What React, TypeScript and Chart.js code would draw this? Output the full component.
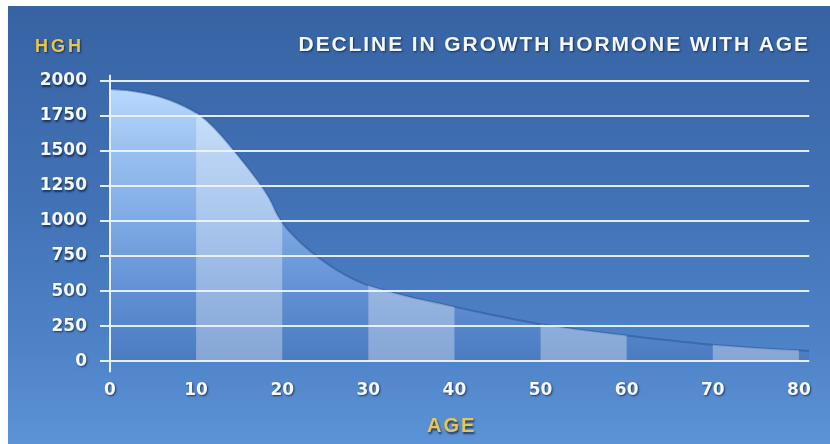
import React, { useEffect, useRef } from "react";
import { Chart, registerables } from "chart.js";

Chart.register(...registerables);

// Data
const ages = [0, 2, 4, 6, 8, 9.5, 10.5, 12, 14, 16, 17.5, 18.5, 19.5, 20.5, 21.5, 22.5, 24, 26.5, 29.5, 34, 39.5, 44, 49.5, 55, 60, 70, 80, 81.2];
const hgh = [1940, 1932, 1912, 1882, 1836, 1790, 1750, 1668, 1530, 1378, 1255, 1160, 1035, 950, 884, 825, 750, 645, 552, 471, 395, 336, 270, 222, 184, 118, 78, 75];
const xTicks = [0, 10, 20, 30, 40, 50, 60, 70, 80];
const yTicks = [0, 250, 500, 750, 1000, 1250, 1500, 1750, 2000];
const bandStarts = [10, 30, 50, 70];
const bandWidth = 10;
const titleText = "DECLINE IN GROWTH HORMONE WITH AGE";
const yLabelText = "HGH";
const xLabelText = "AGE";

const setShadow = (ctx: CanvasRenderingContext2D, on: boolean) => {
  if (on) {
    ctx.shadowColor = "rgba(12,30,70,0.75)";
    ctx.shadowOffsetX = 1;
    ctx.shadowOffsetY = 1.5;
    ctx.shadowBlur = 2;
  } else {
    ctx.shadowColor = "rgba(0,0,0,0)";
    ctx.shadowOffsetX = 0;
    ctx.shadowOffsetY = 0;
    ctx.shadowBlur = 0;
  }
};

const decorPlugin = {
  id: "decor",
  beforeDraw(chart: any) {
    const { ctx, width, height } = chart;
    const g = ctx.createLinearGradient(0, 0, 0, height);
    g.addColorStop(0, "#3763a3");
    g.addColorStop(0.45, "#4272b6");
    g.addColorStop(0.75, "#4d81c6");
    g.addColorStop(1, "#5c92d6");
    ctx.save();
    ctx.fillStyle = g;
    ctx.fillRect(0, 0, width, height);
    ctx.restore();
    setShadow(ctx, true);
  },
  beforeDatasetsDraw(chart: any) {
    setShadow(chart.ctx, false);
  },
  afterDatasetDraw(chart: any, args: any) {
    if (args.index !== 0) return;
    const { ctx, chartArea } = chart;
    const meta = chart.getDatasetMeta(0);
    const line = meta.dataset;
    const pts = meta.data;
    const xs = chart.scales.x;
    ctx.save();
    ctx.beginPath();
    if (line && typeof line.path === "function") {
      line.path(ctx);
    } else {
      pts.forEach((p: any, i: number) => (i ? ctx.lineTo(p.x, p.y) : ctx.moveTo(p.x, p.y)));
    }
    ctx.lineTo(pts[pts.length - 1].x, chartArea.bottom);
    ctx.lineTo(pts[0].x, chartArea.bottom);
    ctx.closePath();
    ctx.clip();
    ctx.fillStyle = "rgba(255,255,255,0.33)";
    bandStarts.forEach((s) => {
      const x0 = xs.getPixelForValue(s);
      const x1 = xs.getPixelForValue(s + bandWidth);
      ctx.fillRect(x0, chartArea.top - 20, x1 - x0, chartArea.bottom - chartArea.top + 20);
    });
    ctx.restore();
  },
  afterDraw(chart: any) {
    const { ctx, chartArea } = chart;
    const xs = chart.scales.x;
    ctx.save();
    setShadow(ctx, false);
    // vertical axis line
    const x0 = Math.round(xs.getPixelForValue(0));
    ctx.strokeStyle = "rgba(236,243,250,0.95)";
    ctx.lineWidth = 2;
    ctx.beginPath();
    ctx.moveTo(x0, chartArea.top - 6);
    ctx.lineTo(x0, chartArea.bottom + 11);
    ctx.stroke();

    setShadow(ctx, true);
    // title
    ctx.font = "bold 21px 'Liberation Sans', Arial, sans-serif";
    (ctx as any).letterSpacing = "1.9px";
    ctx.fillStyle = "#f4f8fc";
    ctx.textAlign = "right";
    ctx.textBaseline = "alphabetic";
    ctx.fillText(titleText, 802, 44.5);

    // HGH
    ctx.font = "bold 18px 'Liberation Sans', Arial, sans-serif";
    (ctx as any).letterSpacing = "3px";
    ctx.fillStyle = "#e9c64e";
    ctx.textAlign = "left";
    ctx.fillText(yLabelText, 27, 45.5);

    // AGE
    ctx.font = "bold 20px 'Liberation Sans', Arial, sans-serif";
    (ctx as any).letterSpacing = "2px";
    ctx.fillStyle = "#e9c64e";
    ctx.textAlign = "left";
    ctx.fillText(xLabelText, 419, 426);
    (ctx as any).letterSpacing = "0px";
    ctx.restore();
  },
};

export default function App() {
  const ref = useRef<HTMLCanvasElement | null>(null);

  useEffect(() => {
    if (!ref.current) return;
    const points = ages.map((a, i) => ({ x: a, y: hgh[i] }));
    const tickFont = { family: "'DejaVu Sans', Verdana, sans-serif", weight: "bold" as const, size: 17 };
    const chart = new Chart(ref.current, {
      type: "line",
      data: {
        datasets: [
          {
            data: points,
            parsing: false,
            fill: "origin",
            cubicInterpolationMode: "monotone",
            borderColor: "rgba(35,75,140,0.45)",
            borderWidth: 2,
            pointRadius: 0,
            backgroundColor: (c: any) => {
              const ca = c.chart.chartArea;
              if (!ca) return "#7eaae4";
              const g = c.chart.ctx.createLinearGradient(0, ca.top, 0, ca.bottom);
              g.addColorStop(0, "#bcdcff");
              g.addColorStop(0.25, "#9ac0f0");
              g.addColorStop(0.5, "#7eaae4");
              g.addColorStop(0.75, "#6290d4");
              g.addColorStop(1, "#4a7bc0");
              return g;
            },
          } as any,
        ],
      },
      options: {
        animation: false,
        responsive: false,
        layout: { padding: { top: 74.7, right: 19, left: 0, bottom: 0 } },
        plugins: {
          legend: { display: false },
          tooltip: { enabled: false },
          title: { display: false },
        },
        scales: {
          x: {
            type: "linear",
            min: 0,
            max: 81.2,
            grid: { display: false, drawTicks: false },
            border: { display: false },
            afterBuildTicks: (s: any) => {
              s.ticks = xTicks.map((v) => ({ value: v }));
            },
            afterFit: (s: any) => {
              s.height = 82.7;
            },
            ticks: {
              color: "#f5f8fc",
              font: tickFont,
              padding: 19,
              maxRotation: 0,
              autoSkip: false,
              callback: (v: any) => String(v),
            },
          },
          y: {
            type: "linear",
            min: 0,
            max: 2000,
            grid: {
              color: "rgba(236,243,250,0.95)",
              lineWidth: 2,
              drawTicks: true,
              tickLength: 10,
              z: 1,
            },
            border: { display: false },
            afterBuildTicks: (s: any) => {
              s.ticks = yTicks.map((v) => ({ value: v }));
            },
            afterFit: (s: any) => {
              s.width = 102;
            },
            ticks: {
              color: "#f5f8fc",
              font: tickFont,
              padding: 13,
              autoSkip: false,
              callback: (v: any) => String(v),
            },
          },
        },
      } as any,
      plugins: [decorPlugin],
    });
    return () => chart.destroy();
  }, []);

  return (
    <div style={{ position: "absolute", left: 8, top: 6, width: 822, height: 438 }}>
      <canvas ref={ref} width={822} height={438} style={{ display: "block" }} />
    </div>
  );
}
